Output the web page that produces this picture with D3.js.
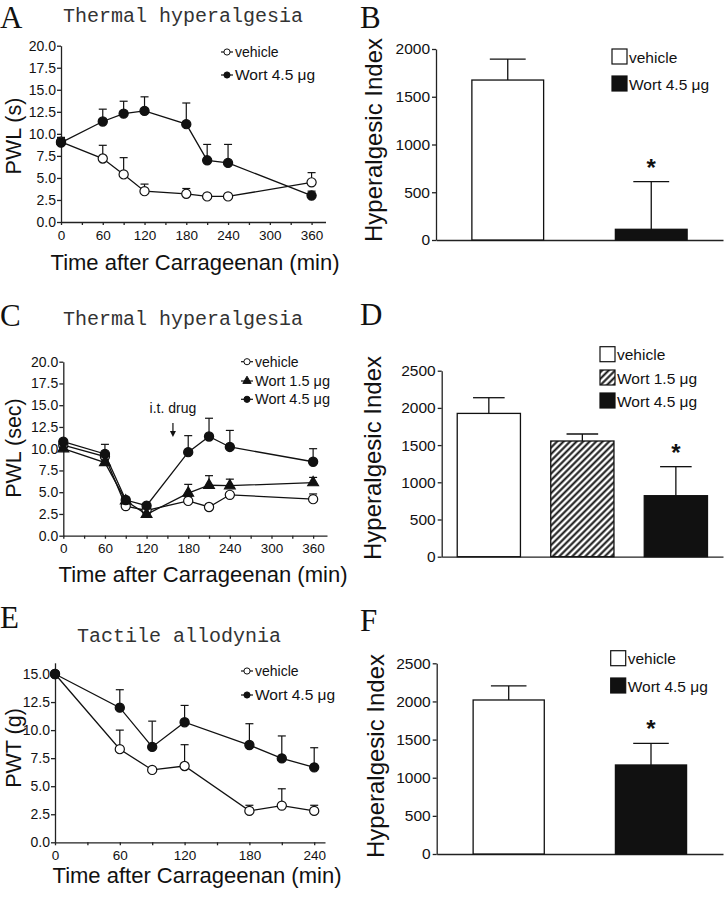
<!DOCTYPE html>
<html>
<head>
<meta charset="utf-8">
<script src="https://cdn.jsdelivr.net/npm/d3@7"></script>
<style>
  body { margin: 0; background: #fff; }
</style>
</head>
<body>
<script>
// values (error bars drawn upward only)
const timesA = [0, 60, 90, 120, 180, 210, 240, 360];
const vehicleA = [9.1, 7.2, 5.4, 3.5, 3.2, 2.9, 2.9, 4.5];
const vehicleAErr = [0.5, 1.5, 1.9, 0.8, 0.6, 0, 0, 1.1];
const wortA = [9.0, 11.4, 12.3, 12.6, 11.1, 7.0, 6.7, 3.0];
const wortAErr = [0.4, 1.4, 1.4, 1.6, 2.4, 1.8, 2.1, 0.5];

const timesC = [0, 60, 90, 120, 180, 210, 240, 360];
const vehicleC = [10.4, 9.1, 3.4, 2.9, 4.0, 3.3, 4.7, 4.2];
const vehicleCErr = [0.2, 0.3, 0.3, 0.2, 0.5, 0.2, 0.2, 0.6];
const wort15C = [10.0, 8.4, 4.0, 2.45, 4.9, 5.8, 5.75, 6.1];
const wort15CErr = [0.2, 0.3, 0.3, 0.2, 1.0, 1.1, 0.75, 0.6];
const wort45C = [10.8, 9.4, 4.1, 3.45, 9.6, 11.4, 10.2, 8.5];
const wort45CErr = [0.2, 1.1, 0.3, 0.2, 1.9, 2.1, 1.9, 1.5];
const drugTime = 158;

const timesE = [0, 60, 90, 120, 180, 210, 240];
const vehicleE = [15.0, 8.3, 6.45, 6.8, 2.8, 3.27, 2.8];
const vehicleEErr = [0, 1.7, 0, 1.9, 0.5, 1.5, 0.5];
const wortE = [15.0, 12.0, 8.5, 10.7, 8.67, 7.48, 6.68];
const wortEErr = [0, 1.6, 2.3, 1.5, 1.9, 2.0, 1.75];

const groupsB = ["vehicle", "Wort 4.5 μg"];
const valuesB = [1675, 112];
const errorsB = [220, 500];

const groupsD = ["vehicle", "Wort 1.5 μg", "Wort 4.5 μg"];
const valuesD = [1926, 1555, 820];
const errorsD = [211, 94, 390];

const groupsF = ["vehicle", "Wort 4.5 μg"];
const valuesF = [2019, 1167];
const errorsF = [184, 284];

const ticks30_360 = d3.range(0, 361, 30);
const ticks30_240 = d3.range(0, 241, 30);
const ticks20 = d3.range(0, 20.1, 2.5);
const ticks15 = d3.range(0, 15.1, 2.5);
const ticks2000 = d3.range(0, 2001, 500);
const ticks2500 = d3.range(0, 2501, 500);

const SANS = "'Liberation Sans', Arial, sans-serif";

const svg = d3.select("body").append("svg")
  .attr("width", 726)
  .attr("height", 900)
  .style("font-family", SANS);

// hatch for the Wort 1.5 bar
const pat = svg.append("defs").append("pattern")
  .attr("id", "hatch")
  .attr("patternUnits", "userSpaceOnUse")
  .attr("width", 4.6)
  .attr("height", 4.6)
  .attr("patternTransform", "rotate(45)");
pat.append("rect").attr("width", 4.6).attr("height", 4.6).attr("fill", "white");
pat.append("line")
  .attr("x1", 2.3).attr("x2", 2.3).attr("y1", 0).attr("y2", 4.6)
  .attr("stroke", "#111").attr("stroke-width", 2);

function styleAxis(sel, size) {
  sel.attr("font-family", SANS);
  sel.selectAll("path, line").attr("stroke", "#222").attr("stroke-width", 1.3);
  sel.selectAll("text").attr("font-size", size).attr("fill", "#111");
}

function panelLetter(letter, x, y) {
  svg.append("text")
    .attr("x", x).attr("y", y)
    .attr("font-family", "'Liberation Serif', 'Times New Roman', serif")
    .attr("font-size", 31)
    .attr("fill", "#111")
    .text(letter);
}

function yTitle(label, x, y, size) {
  svg.append("text")
    .attr("transform", `translate(${x},${y}) rotate(-90)`)
    .attr("text-anchor", "middle")
    .attr("font-size", size)
    .attr("fill", "#111")
    .text(label);
}

function symbolPath(type, size) {
  return d3.symbol().type(type === "triangle" ? d3.symbolTriangle : d3.symbolCircle).size(size)();
}

function linePanel(p) {
  const g = svg.append("g");
  const x = d3.scaleLinear().domain(p.xDomain).range(p.xRange);
  const y = d3.scaleLinear().domain(p.yDomain).range(p.yRange);

  panelLetter(p.letter, p.letterX, p.letterY);
  svg.append("text")
    .attr("x", p.titleX).attr("y", p.titleY)
    .attr("font-family", "'Liberation Mono', 'Courier New', monospace")
    .attr("font-size", 20)
    .attr("fill", "#333")
    .text(p.title);

  g.append("g")
    .attr("transform", `translate(0,${p.yRange[0]})`)
    .call(d3.axisBottom(x).tickValues(p.xTicks).tickSize(3).tickSizeOuter(0).tickPadding(5)
      .tickFormat(d => d % 60 === 0 ? d : ""))
    .call(styleAxis, 13.5);

  g.append("g")
    .attr("transform", `translate(${p.xRange[0]},0)`)
    .call(d3.axisLeft(y).tickValues(p.yTicks).tickSize(4).tickSizeOuter(0).tickPadding(1)
      .tickFormat(d3.format(".1f")))
    .call(styleAxis, 14);

  yTitle(p.yLabel, p.yLabelX, p.yLabelY, 21.5);
  svg.append("text")
    .attr("x", p.xLabelX).attr("y", p.xLabelY)
    .attr("text-anchor", "middle")
    .attr("font-size", 22)
    .attr("fill", "#111")
    .text("Time after Carrageenan (min)");

  const line = d3.line().x(d => x(d.t)).y(d => y(d.v));

  p.series.forEach(s => {
    const pts = p.times.map((t, i) => ({ t, v: s.values[i], e: s.errors[i] }));
    const sg = g.append("g");
    sg.append("path")
      .attr("d", line(pts))
      .attr("fill", "none")
      .attr("stroke", "#111")
      .attr("stroke-width", 1.3);
    const eb = sg.selectAll(".err").data(pts.filter(d => d.e > 0)).join("g");
    eb.append("line")
      .attr("x1", d => x(d.t)).attr("x2", d => x(d.t))
      .attr("y1", d => y(d.v)).attr("y2", d => y(d.v + d.e))
      .attr("stroke", "#111").attr("stroke-width", 1.2);
    eb.append("line")
      .attr("x1", d => x(d.t) - 4).attr("x2", d => x(d.t) + 4)
      .attr("y1", d => y(d.v + d.e)).attr("y2", d => y(d.v + d.e))
      .attr("stroke", "#111").attr("stroke-width", 1.2);
    sg.selectAll(".pt").data(pts).join("path")
      .attr("transform", d => `translate(${x(d.t)},${y(d.v)})`)
      .attr("d", symbolPath(s.symbol, s.symbol === "triangle" ? 50 : 66))
      .attr("fill", s.fill)
      .attr("stroke", "#111")
      .attr("stroke-width", 1.2);
  });

  // legend
  p.series.forEach((s, i) => {
    const ly = p.legendYs[i];
    const lg = svg.append("g").attr("transform", `translate(${p.legendX},${ly})`);
    lg.append("line").attr("x1", -6).attr("x2", 6).attr("stroke", "#111").attr("stroke-width", 1.2);
    lg.append("path")
      .attr("d", symbolPath(s.symbol, 30))
      .attr("fill", s.fill).attr("stroke", "#111").attr("stroke-width", 1);
    lg.append("text")
      .attr("x", 8).attr("y", 5)
      .attr("font-size", s.name === "vehicle" ? 14 : p.legendSize)
      .attr("fill", "#111")
      .text(s.name);
  });

  return { x, y };
}

function barPanel(p) {
  const g = svg.append("g");
  const x = d3.scaleBand().domain(p.groups).range(p.xRange)
    .paddingInner(p.padInner).paddingOuter(p.padOuter);
  const y = d3.scaleLinear().domain(p.yDomain).range(p.yRange);

  panelLetter(p.letter, p.letterX, p.letterY);

  g.append("g")
    .attr("transform", `translate(0,${p.yRange[0]})`)
    .call(d3.axisBottom(x).tickSize(0).tickSizeOuter(0).tickFormat(""))
    .call(styleAxis, 0);

  g.append("g")
    .attr("transform", `translate(${p.xRange[0]},0)`)
    .call(d3.axisLeft(y).tickValues(p.yTicks).tickSize(4).tickSizeOuter(0).tickPadding(2)
      .tickFormat(d3.format("d")))
    .call(styleAxis, 15.5);

  yTitle("Hyperalgesic Index", p.yLabelX, p.yLabelY, 24);

  const data = p.groups.map((k, i) => ({ k, v: p.values[i], e: p.errors[i], fill: p.fills[i] }));
  const bw = x.bandwidth();

  const eb = g.selectAll(".err").data(data).join("g");
  eb.append("line")
    .attr("x1", d => x(d.k) + bw / 2).attr("x2", d => x(d.k) + bw / 2)
    .attr("y1", d => y(d.v)).attr("y2", d => y(d.v + d.e))
    .attr("stroke", "#111").attr("stroke-width", 1.3);
  eb.append("line")
    .attr("x1", d => x(d.k) + bw / 4).attr("x2", d => x(d.k) + bw * 3 / 4)
    .attr("y1", d => y(d.v + d.e)).attr("y2", d => y(d.v + d.e))
    .attr("stroke", "#111").attr("stroke-width", 1.3);

  g.selectAll(".bar").data(data).join("rect")
    .attr("x", d => x(d.k))
    .attr("y", d => y(d.v))
    .attr("width", bw)
    .attr("height", d => y(0) - y(d.v))
    .attr("fill", d => d.fill)
    .attr("stroke", "#111")
    .attr("stroke-width", 1.3);

  // significance star over the last group
  const last = data[data.length - 1];
  g.append("text")
    .attr("x", x(last.k) + bw / 2)
    .attr("y", y(last.v + last.e) - 6)
    .attr("text-anchor", "middle")
    .attr("font-size", 24)
    .attr("font-weight", "bold")
    .attr("fill", "#111")
    .text("*");

  data.forEach((d, i) => {
    const top = p.legendYs[i];
    svg.append("rect")
      .attr("x", p.legendX).attr("y", top)
      .attr("width", 15).attr("height", 15)
      .attr("fill", d.fill).attr("stroke", "#111").attr("stroke-width", 1.2);
    svg.append("text")
      .attr("x", p.legendX + 17).attr("y", top + 13.5)
      .attr("font-size", 15.5)
      .attr("fill", "#111")
      .text(d.k);
  });
}

// ---- A ----
linePanel({
  letter: "A", letterX: 0, letterY: 28,
  title: "Thermal hyperalgesia", titleX: 63, titleY: 22,
  times: timesA,
  xDomain: [0, 380], xRange: [61, 325.5], xTicks: ticks30_360,
  yDomain: [0, 20], yRange: [222, 45.7], yTicks: ticks20,
  yLabel: "PWL (s)", yLabelX: 21, yLabelY: 136,
  xLabelX: 195, xLabelY: 270,
  series: [
    { name: "vehicle", values: vehicleA, errors: vehicleAErr, symbol: "circle", fill: "white" },
    { name: "Wort 4.5 μg", values: wortA, errors: wortAErr, symbol: "circle", fill: "#111" }
  ],
  legendX: 227, legendYs: [52, 75], legendSize: 15.5
});

// ---- B ----
barPanel({
  letter: "B", letterX: 360, letterY: 28,
  groups: groupsB, values: valuesB, errors: errorsB, fills: ["white", "#111"],
  xRange: [436, 723], padInner: 0.5, padOuter: 0.25,
  yDomain: [0, 2000], yRange: [240, 49], yTicks: ticks2000,
  yLabelX: 382, yLabelY: 140,
  legendX: 612, legendYs: [49, 76]
});

// ---- C ----
const c = linePanel({
  letter: "C", letterX: 0, letterY: 326,
  title: "Thermal hyperalgesia", titleX: 63, titleY: 325,
  times: timesC,
  xDomain: [0, 380], xRange: [63.3, 327], xTicks: ticks30_360,
  yDomain: [0, 20], yRange: [535.7, 361.7], yTicks: ticks20,
  yLabel: "PWL (sec)", yLabelX: 21, yLabelY: 448,
  xLabelX: 203, xLabelY: 582,
  series: [
    { name: "vehicle", values: vehicleC, errors: vehicleCErr, symbol: "circle", fill: "white" },
    { name: "Wort 1.5 μg", values: wort15C, errors: wort15CErr, symbol: "triangle", fill: "#111" },
    { name: "Wort 4.5 μg", values: wort45C, errors: wort45CErr, symbol: "circle", fill: "#111" }
  ],
  legendX: 247, legendYs: [361.7, 381, 399.3], legendSize: 14.5
});

// drug injection arrow
const ax = c.x(drugTime);
svg.append("text")
  .attr("x", ax).attr("y", 413)
  .attr("text-anchor", "middle")
  .attr("font-size", 14)
  .attr("fill", "#111")
  .text("i.t. drug");
svg.append("line")
  .attr("x1", ax).attr("x2", ax).attr("y1", 423).attr("y2", 433)
  .attr("stroke", "#111").attr("stroke-width", 1.2);
svg.append("path")
  .attr("d", `M${ax - 3},${431} L${ax + 3},${431} L${ax},${437} Z`)
  .attr("fill", "#111");

// ---- D ----
barPanel({
  letter: "D", letterX: 360, letterY: 325,
  groups: groupsD, values: valuesD, errors: errorsD, fills: ["white", "url(#hatch)", "#111"],
  xRange: [441.7, 723], padInner: 0.324, padOuter: 0.166,
  yDomain: [0, 2500], yRange: [556.7, 370.7], yTicks: ticks2500,
  yLabelX: 381, yLabelY: 458,
  legendX: 600, legendYs: [346.7, 370, 393]
});

// ---- E ----
linePanel({
  letter: "E", letterX: 0, letterY: 628,
  title: "Tactile allodynia", titleX: 77, titleY: 642,
  times: timesE,
  xDomain: [0, 250], xRange: [55, 325], xTicks: ticks30_240,
  yDomain: [0, 16], yRange: [842.3, 662.8], yTicks: ticks15,
  yLabel: "PWT (g)", yLabelX: 21, yLabelY: 748,
  xLabelX: 197, xLabelY: 883,
  series: [
    { name: "vehicle", values: vehicleE, errors: vehicleEErr, symbol: "circle", fill: "white" },
    { name: "Wort 4.5 μg", values: wortE, errors: wortEErr, symbol: "circle", fill: "#111" }
  ],
  legendX: 247, legendYs: [671, 695], legendSize: 15.5
});

// ---- F ----
barPanel({
  letter: "F", letterX: 360, letterY: 631,
  groups: groupsF, values: valuesF, errors: errorsF, fills: ["white", "#111"],
  xRange: [436.7, 723], padInner: 0.5, padOuter: 0.256,
  yDomain: [0, 2500], yRange: [854, 663.3], yTicks: ticks2500,
  yLabelX: 384, yLabelY: 756,
  legendX: 610.7, legendYs: [650.7, 678]
});
</script>
</body>
</html>
